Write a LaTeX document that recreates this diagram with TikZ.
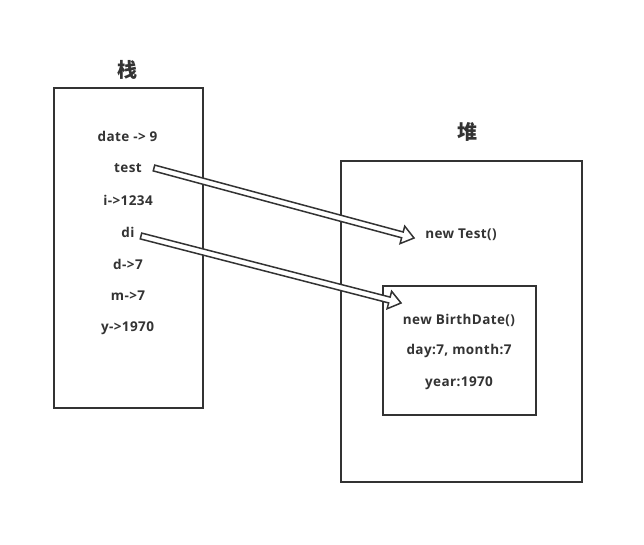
\documentclass[tikz,border=0pt]{standalone}
\usepackage{fontspec}
\setmainfont{Open Sans}
\newfontfamily\lblfont[LetterSpace=3]{Open Sans}
\newfontfamily\cjk{Noto Sans CJK SC}
\usetikzlibrary{calc}
\definecolor{ink}{HTML}{333333}
\tikzset{
  box/.style={draw=ink, line width=1.6pt, fill=none, inner sep=0pt},
  lbl/.style={text=ink, font=\lblfont\fontsize{13.5}{15}\selectfont\bfseries, inner sep=1pt},
  title/.style={text=ink, font=\cjk\fontsize{20}{22}\selectfont\bfseries, inner sep=0pt},
  arr/.style={draw=ink, line width=1.5pt, fill=white, line join=miter}
}
\newcommand\fatarrow[2]{%
  \coordinate (fa-h) at ($(#2)!12pt!(#1)$);
  \draw[arr] ($(#1)!3pt!90:(#2)$) -- ($(fa-h)!3pt!-90:(#1)$) -- ($(fa-h)!9pt!-90:(#1)$) -- (#2)
    -- ($(fa-h)!9pt!90:(#1)$) -- ($(fa-h)!3pt!90:(#1)$) -- ($(#1)!3pt!-90:(#2)$) -- cycle;}
\begin{document}
\begin{tikzpicture}[x=1pt,y=-1pt]
\useasboundingbox (0,0) rectangle (644,544);
\fill[white] (0,0) rectangle (644,544);
% boxes
\node[box, minimum width=149pt, minimum height=320pt] (stack) at (128.5,248) {};
\node[box, minimum width=241pt, minimum height=321pt] (heap) at (461.5,321.5) {};
\node[box, minimum width=153pt, minimum height=129pt] (obj) at (459.5,350.5) {};
% titles
\node[title] (tstack) at (127,70) {栈};
\node[title] (theap) at (467,132) {堆};
% stack labels
\node[lbl] (date) at (127.5,136) {date -> 9};
\node[lbl] (test) at (128,168) {test};
\node[lbl] (i) at (128,200) {i->1234};
\node[lbl] (di) at (128,232) {di};
\node[lbl] (d) at (128,264) {d->7};
\node[lbl] (m) at (128,296) {m->7};
\node[lbl] (y) at (127.5,328) {y->1970};
% heap labels
\node[lbl] (ntest) at (461,235) {new Test()};
\node[lbl] (nbd) at (459,320) {new BirthDate()};
\node[lbl] (dm) at (459,351) {day:7, month:7};
\node[lbl] (yr) at (459,383) {year:1970};
% arrows
\coordinate (a1s) at (154,168);
\coordinate (a1e) at (414,238);
\coordinate (a2s) at (141,236);
\coordinate (a2e) at (401,303);
\fatarrow{a1s}{a1e}
\fatarrow{a2s}{a2e}
\end{tikzpicture}
\end{document}
